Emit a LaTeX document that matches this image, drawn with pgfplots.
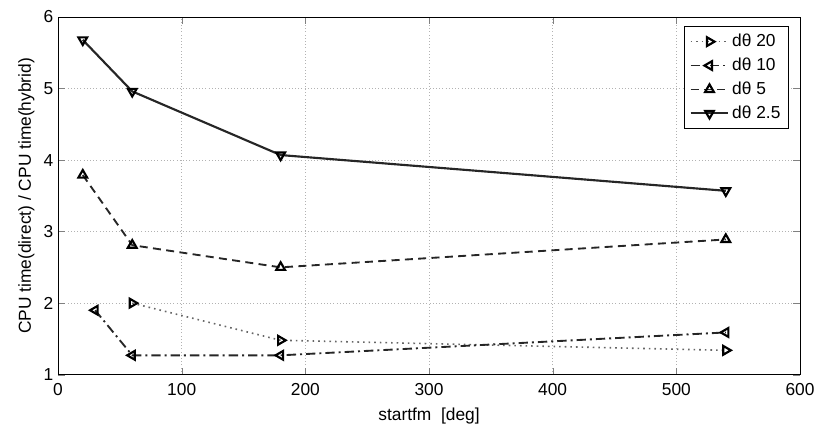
\documentclass[border=0pt]{standalone}
\usepackage{pgfplots}
\pgfplotsset{compat=1.18}
\usepackage{fontspec}
\setmainfont{Liberation Sans}
\begin{document}
\begin{tikzpicture}
\begin{axis}[
  scale only axis,
  width=556pt, height=268pt,
  xmin=0, xmax=600, ymin=1, ymax=6,
  xtick={0,100,...,600}, ytick={1,2,...,6},
  tick align=inside,
  major tick length=5pt,
  grid=major,
  major grid style={gray!60, dotted},
  /pgf/number format/assume math mode=true,
  ticklabel style={font=\fontsize{13}{15}\selectfont},
  xticklabel style={yshift=-3pt},
  label style={font=\fontsize{13}{15}\selectfont},
  xlabel={startfm\ \ [deg]},
  ylabel={CPU time(direct) / CPU time(hybrid)},
  xlabel style={yshift=-2pt},
  ylabel style={yshift=0pt},
  axis line style={black, line width=0.6pt},
  legend style={at={(0.985,0.975)}, anchor=north east, draw=black, line width=0.6pt, font=\fontsize{13}{15}\selectfont, row sep=3pt, inner sep=4pt},
  legend cell align=left,
  every axis legend/.append style={/tikz/every even column/.append style={column sep=2pt}},
  legend image code/.code={\draw[#1] (0cm,0cm) -- (1.0cm,0cm); \draw[#1, only marks] plot coordinates {(0.5cm,0cm)};},
]
\addplot[gray!80!black, dash pattern=on 1.2pt off 3pt, line width=1.2pt, mark=triangle, mark options={rotate=-90, solid, black, line width=1.6pt}, mark size=3.8pt] coordinates {(60,2.0) (180,1.48) (540,1.34)};
\addlegendentry{dθ 20}
\addplot[black!85, dash pattern=on 7pt off 3pt on 1.5pt off 3pt, line width=1.4pt, mark=triangle, mark options={rotate=90, solid, black, line width=1.6pt}, mark size=3.8pt] coordinates {(30,1.90) (60,1.27) (180,1.27) (540,1.59)};
\addlegendentry{dθ 10}
\addplot[black!85, dash pattern=on 6pt off 4pt, line width=1.4pt, mark=triangle, mark options={solid, black, line width=1.6pt}, mark size=3.8pt] coordinates {(20,3.79) (60,2.81) (180,2.50) (540,2.89)};
\addlegendentry{dθ 5}
\addplot[black!85, solid, line width=1.6pt, mark=triangle, mark options={rotate=180, solid, black, line width=1.6pt}, mark size=3.8pt] coordinates {(20,5.68) (60,4.96) (180,4.07) (540,3.57)};
\addlegendentry{dθ 2.5}
\end{axis}
\pgfresetboundingbox
\path[use as bounding box] ([xshift=-43.5pt,yshift=-37.5pt]current axis.south west) rectangle ([xshift=12pt,yshift=12.75pt]current axis.north east);
\end{tikzpicture}
\end{document}
